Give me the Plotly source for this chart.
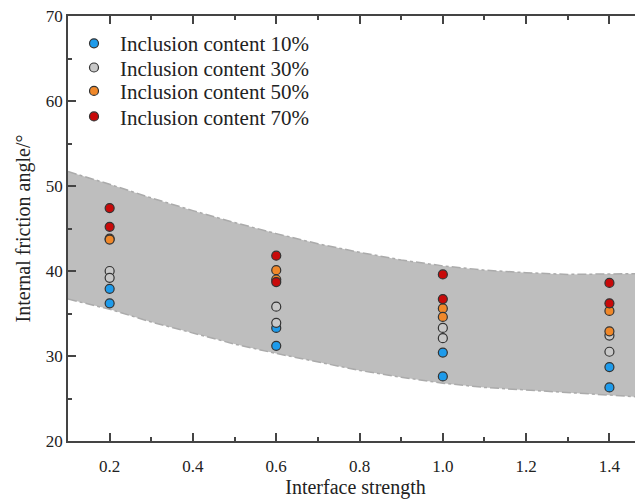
import plotly.graph_objects as go

# Band (confidence region) boundaries
band_x = [0.1, 0.2, 0.3, 0.4, 0.5, 0.6, 0.7, 0.8, 0.9, 1.0, 1.1, 1.2, 1.3, 1.4, 1.5]
band_upper = [51.7, 50.2, 48.6, 47.1, 45.7, 44.4, 43.2, 42.2, 41.3, 40.6, 40.1, 39.8, 39.6, 39.6, 39.7]
band_lower = [36.7, 35.5, 34.0, 32.7, 31.4, 30.3, 29.3, 28.3, 27.5, 26.8, 26.3, 26.0, 25.7, 25.4, 25.1]

# Scatter data
x_10 = [0.2, 0.2, 0.6, 0.6, 1.0, 1.0, 1.4, 1.4]
y_10 = [37.9, 36.2, 33.3, 31.2, 30.4, 27.6, 28.7, 26.3]
x_30 = [0.2, 0.2, 0.6, 0.6, 1.0, 1.0, 1.4, 1.4]
y_30 = [40.0, 39.2, 35.8, 33.9, 33.3, 32.1, 32.4, 30.5]
x_50 = [0.2, 0.2, 0.6, 0.6, 1.0, 1.0, 1.4, 1.4]
y_50 = [43.8, 43.7, 40.1, 39.0, 35.6, 34.6, 35.3, 32.9]
x_70 = [0.2, 0.2, 0.6, 0.6, 1.0, 1.0, 1.4, 1.4]
y_70 = [47.4, 45.2, 41.8, 38.7, 39.6, 36.7, 38.6, 36.2]

names = ["Inclusion content 10%", "Inclusion content 30%",
         "Inclusion content 50%", "Inclusion content 70%"]
colors = ["#1E9BEB", "#C8C8C8", "#F0882A", "#C80A0A"]
legend_ids = ["legend", "legend2", "legend3", "legend4"]
legend_rows = [0.935, 0.878, 0.823, 0.763]

FONT = "Liberation Serif, Times New Roman, serif"

fig = go.Figure()
fig.add_trace(go.Scatter(x=band_x, y=band_lower, mode="lines",
                         line=dict(color="#ABABAB", width=1.5, dash="dashdot"),
                         showlegend=False, hoverinfo="skip"))
fig.add_trace(go.Scatter(x=band_x, y=band_upper, mode="lines", fill="tonexty",
                         fillcolor="#BEBEBE",
                         line=dict(color="#ABABAB", width=1.5, dash="dashdot"),
                         showlegend=False, hoverinfo="skip"))

series = [(x_10, y_10), (x_30, y_30), (x_50, y_50), (x_70, y_70)]
for (xs, ys), nm, c, lg in zip(series, names, colors, legend_ids):
    fig.add_trace(go.Scatter(x=xs, y=ys, mode="markers", name=nm, legend=lg,
                             marker=dict(size=9, color=c, line=dict(color="#333333", width=1.2))))

axis_common = dict(showline=True, linecolor="#444444", linewidth=1.5, ticks="inside",
                   tickcolor="#444444", tickwidth=1.5, ticklen=8, showgrid=False, zeroline=False,
                   automargin=False, ticklabeloverflow="allow",
                   tickfont=dict(family=FONT, size=17, color="#222222"))

legend_common = dict(x=0.0, xanchor="left", yanchor="middle", bgcolor="rgba(0,0,0,0)",
                     itemwidth=42, font=dict(family=FONT, size=21, color="#222222"))

fig.update_layout(
    width=635, height=496,
    margin=dict(l=60, r=0, t=8, b=63),
    paper_bgcolor="white", plot_bgcolor="white",
    xaxis=dict(range=[0.1, 1.4806], tickvals=[0.2, 0.4, 0.6, 0.8, 1.0, 1.2, 1.4],
               ticktext=["0.2", "0.4", "0.6", "0.8", "1.0", "1.2", "1.4"], mirror="allticks",
               ticklabelstandoff=9,
               minor=dict(ticks="inside", dtick=0.1, tick0=0.1, ticklen=4, tickcolor="#444444", tickwidth=1.5),
               title=dict(text="Interface strength", font=dict(family=FONT, size=20, color="#222222"), standoff=5),
               **axis_common),
    yaxis=dict(range=[20, 70], dtick=10, tick0=20,
               minor=dict(ticks="inside", dtick=5, ticklen=4, tickcolor="#444444", tickwidth=1.5),
               title=dict(text="Internal friction angle/°", font=dict(family=FONT, size=20, color="#222222"), standoff=10),
               **axis_common),
    legend=dict(y=legend_rows[0], **legend_common),
    legend2=dict(y=legend_rows[1], **legend_common),
    legend3=dict(y=legend_rows[2], **legend_common),
    legend4=dict(y=legend_rows[3], **legend_common),
    showlegend=True,
)

fig.write_html("out.html")
